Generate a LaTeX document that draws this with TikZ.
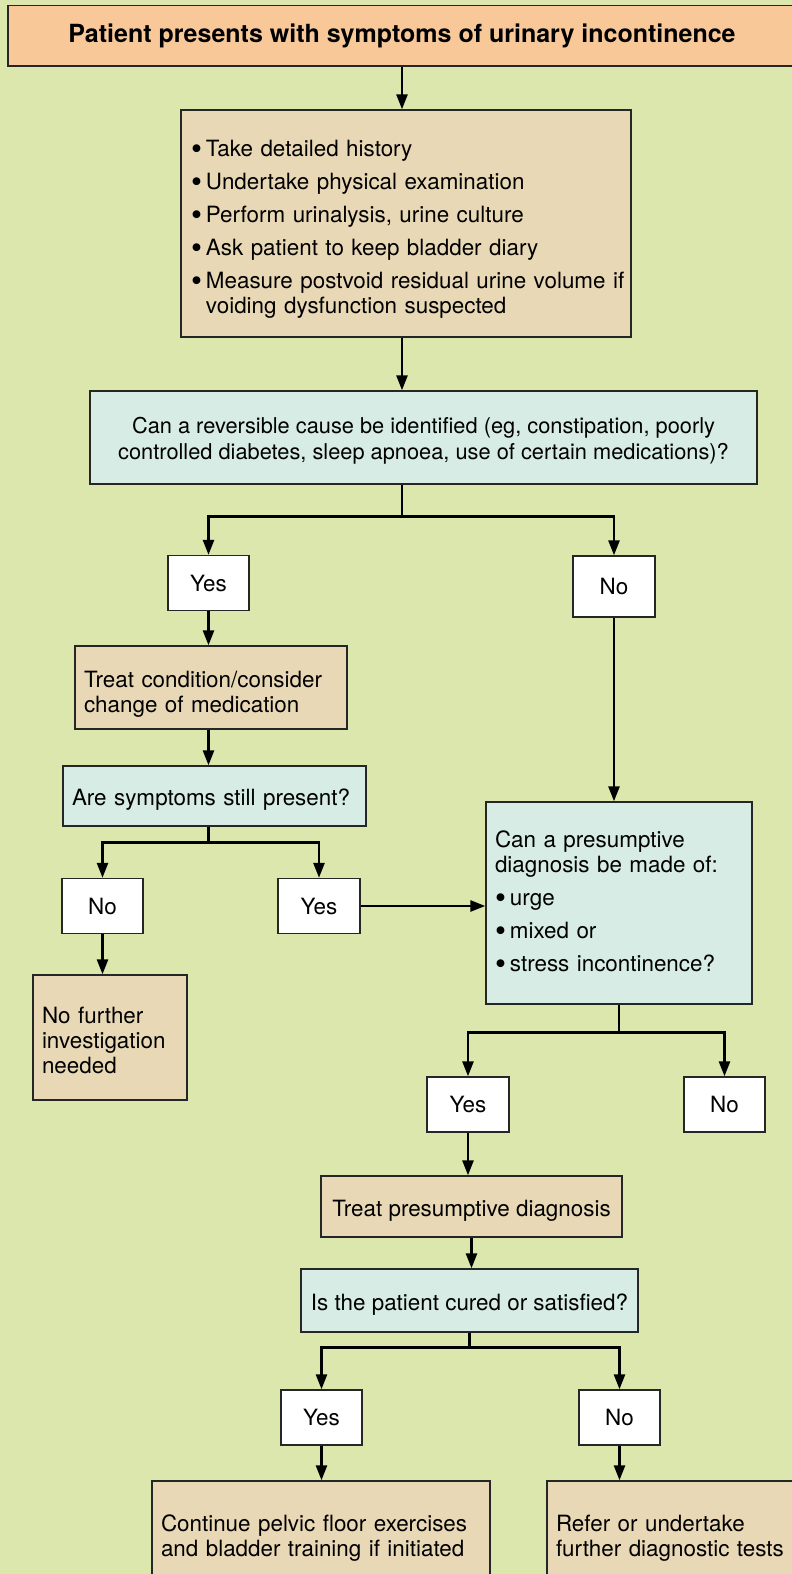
\documentclass[tikz,border=0pt]{standalone}
\usepackage{fontspec}
\setmainfont{TeX Gyre Heros}
\usetikzlibrary{arrows.meta}
\definecolor{bgfill}{RGB}{220,231,174}
\definecolor{topfill}{RGB}{248,200,152}
\definecolor{actfill}{RGB}{233,216,181}
\definecolor{askfill}{RGB}{214,236,228}
\newcommand{\blt}{\raisebox{-3.2pt}{\scalebox{1.4}{\textbullet}}\hspace{4pt}}
\newcommand{\lift}[1]{\rule{0pt}{#1}}
\begin{document}
\begin{tikzpicture}[x=1pt,y=-1pt]
\tikzstyle{every node}+=[inner sep=0pt, font=\fontsize{22.4}{25}\selectfont]
\tikzstyle{box}=[draw=black!85, line width=1.3pt]
\tikzstyle{act}=[box, fill=actfill]
\tikzstyle{ask}=[box, fill=askfill]
\tikzstyle{ans}=[box, fill=white, minimum height=55pt, minimum width=81pt]
\tikzstyle{link}=[line width=2.6pt, -{Triangle[length=15pt,width=11pt]}]
\tikzstyle{wire}=[line width=2.6pt]
\useasboundingbox (0,0) rectangle (792,1574);
\fill[bgfill] (0,0) rectangle (792,1574);
\node[box, fill=topfill, minimum width=788pt, minimum height=60.5pt, font=\fontsize{25}{28}\bfseries] (title) at (402,35.75) {Patient presents with symptoms of urinary incontinence};
\node[act, minimum width=450pt, minimum height=227pt, text width=430pt, align=left] (hist) at (406,223.5) {\lift{27pt}\blt Take detailed history\\[8pt]\blt Undertake physical examination\\[8pt]\blt Perform urinalysis, urine culture\\[8pt]\blt Ask patient to keep bladder diary\\[8pt]\mbox{\blt Measure postvoid residual urine volume if}\\\phantom{\blt}voiding dysfunction suspected};
\node[ask, minimum width=667pt, minimum height=93pt, align=center, font=\fontsize{21.8}{26}\selectfont] (cause) at (423.5,437.5) {\lift{22pt}Can a reversible cause be identified (eg, constipation, poorly\\controlled diabetes, sleep apnoea, use of certain medications)?};
\node[ans] (yes1) at (208.5,583) {Yes};
\node[ans, minimum width=82pt, minimum height=61pt] (no1) at (614,586.5) {No};
\node[act, minimum width=272pt, minimum height=83pt, text width=254pt, align=left] (treat) at (211,687.5) {\lift{29pt}Treat condition/consider\\change of medication};
\node[ask, minimum width=303pt, minimum height=60pt, text width=285pt, align=left] (still) at (214.5,796) {\lift{24pt}Are symptoms still present?};
\node[ans] (no2) at (102.5,906) {No};
\node[ans, minimum width=82pt] (yes2) at (319,906) {Yes};
\node[act, minimum width=154pt, minimum height=125pt, text width=136pt, align=left] (nofurther) at (110,1037.5) {\lift{22pt}No further\\investigation\\needed};
\node[ask, minimum width=266pt, minimum height=202pt, text width=248pt, align=left] (presume) at (619,903) {Can a presumptive\\diagnosis be made of:\\[8pt]\blt urge\\[8pt]\blt mixed or\\[8pt]\blt stress incontinence?};
\node[ans, minimum width=82pt] (yes3) at (468,1104.5) {Yes};
\node[ans] (no3) at (724.5,1104.5) {No};
\node[act, minimum width=301pt, minimum height=61pt] (treatp) at (471.5,1206.5) {\lift{24pt}Treat presumptive diagnosis};
\node[ask, minimum width=337pt, minimum height=63pt] (cured) at (469.5,1300.5) {\lift{25pt}Is the patient cured or satisfied?};
\node[ans] (yes4) at (321.5,1417.5) {Yes};
\node[ans] (no4) at (619.5,1417.5) {No};
\node[act, minimum width=338pt, minimum height=100pt, text width=320pt, align=left] (cont) at (321,1531) {\lift{30pt}Continue pelvic floor exercises\\and bladder training if initiated};
\node[act, minimum width=265pt, minimum height=100pt, text width=247pt, align=left] (refer) at (679.5,1531) {\lift{30pt}Refer or undertake\\further diagnostic tests};
\draw[link] (title.south) -- (title.south |- hist.north);
\draw[link] (title.south |- hist.south) -- (title.south |- cause.north);
\draw[wire] (title.south |- cause.south) -- ++(0,32) coordinate (fork1);
\draw[link] (fork1) -| (yes1.north);
\draw[link] (fork1) -| (no1.north);
\draw[link] (yes1.south) -- (yes1.south |- treat.north);
\draw[link] (yes1.south |- treat.south) -- (yes1.south |- still.north);
\draw[wire] (yes1.south |- still.south) -- ++(0,16) coordinate (fork2);
\draw[link] (fork2) -| (no2.north);
\draw[link] (fork2) -| (yes2.north);
\draw[link] (no2.south) -- (no2.south |- nofurther.north);
\draw[link] (yes2.east) -- (yes2.east -| presume.west);
\draw[link] (no1.south) -- (no1.south |- presume.north);
\draw[wire] (presume.south) -- ++(0,28) coordinate (fork3);
\draw[link] (fork3) -| (yes3.north);
\draw[link] (fork3) -| (no3.north);
\draw[link] (yes3.south) -- (yes3.south |- treatp.north);
\draw[link] (treatp.south) -- (treatp.south |- cured.north);
\draw[wire] (cured.south) -- ++(0,15) coordinate (fork4);
\draw[link] (fork4) -| (yes4.north);
\draw[link] (fork4) -| (no4.north);
\draw[link] (yes4.south) -- (yes4.south |- cont.north);
\draw[link] (no4.south) -- (no4.south |- refer.north);
\end{tikzpicture}
\end{document}
